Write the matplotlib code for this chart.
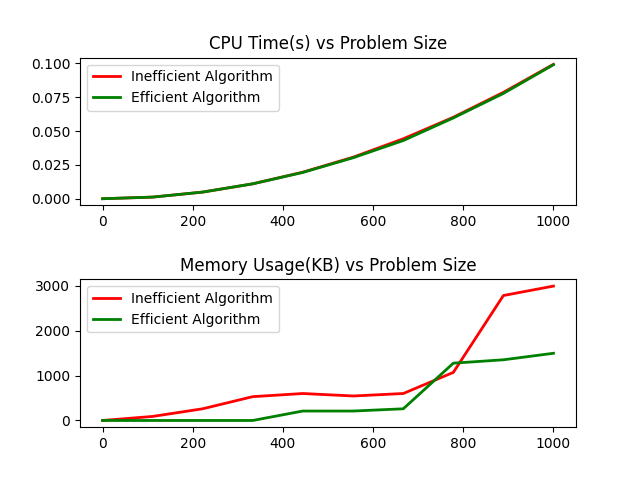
import numpy as np
import matplotlib
matplotlib.use('Agg')
import matplotlib.pyplot as plt

# Problem sizes
sizes = [0, 111, 222, 333, 444, 556, 667, 778, 889, 1000]

# CPU time (s)
cpu_inefficient = [0.0, 0.0012, 0.0049, 0.0110, 0.0196, 0.0307, 0.0443, 0.0602, 0.0786, 0.0993]
cpu_efficient = [0.0, 0.0012, 0.0049, 0.0110, 0.0194, 0.0303, 0.0430, 0.0597, 0.0778, 0.0990]

# Memory usage (KB)
mem_inefficient = [0, 90, 260, 530, 600, 545, 600, 1070, 2780, 2990]
mem_efficient = [0, 0, 0, 0, 210, 210, 260, 1275, 1350, 1495]

fig, (ax1, ax2) = plt.subplots(2, 1, figsize=(6.4, 4.8))
plt.subplots_adjust(hspace=0.5)

ax1.plot(sizes, cpu_inefficient, color='red', linewidth=2, label='Inefficient Algorithm')
ax1.plot(sizes, cpu_efficient, color='green', linewidth=2, label='Efficient Algorithm')
ax1.set_title('CPU Time(s) vs Problem Size')
ax1.legend(loc='upper left')

ax2.plot(sizes, mem_inefficient, color='red', linewidth=2, label='Inefficient Algorithm')
ax2.plot(sizes, mem_efficient, color='green', linewidth=2, label='Efficient Algorithm')
ax2.set_title('Memory Usage(KB) vs Problem Size')
ax2.legend(loc='upper left')

plt.savefig('out.png', dpi=100)
